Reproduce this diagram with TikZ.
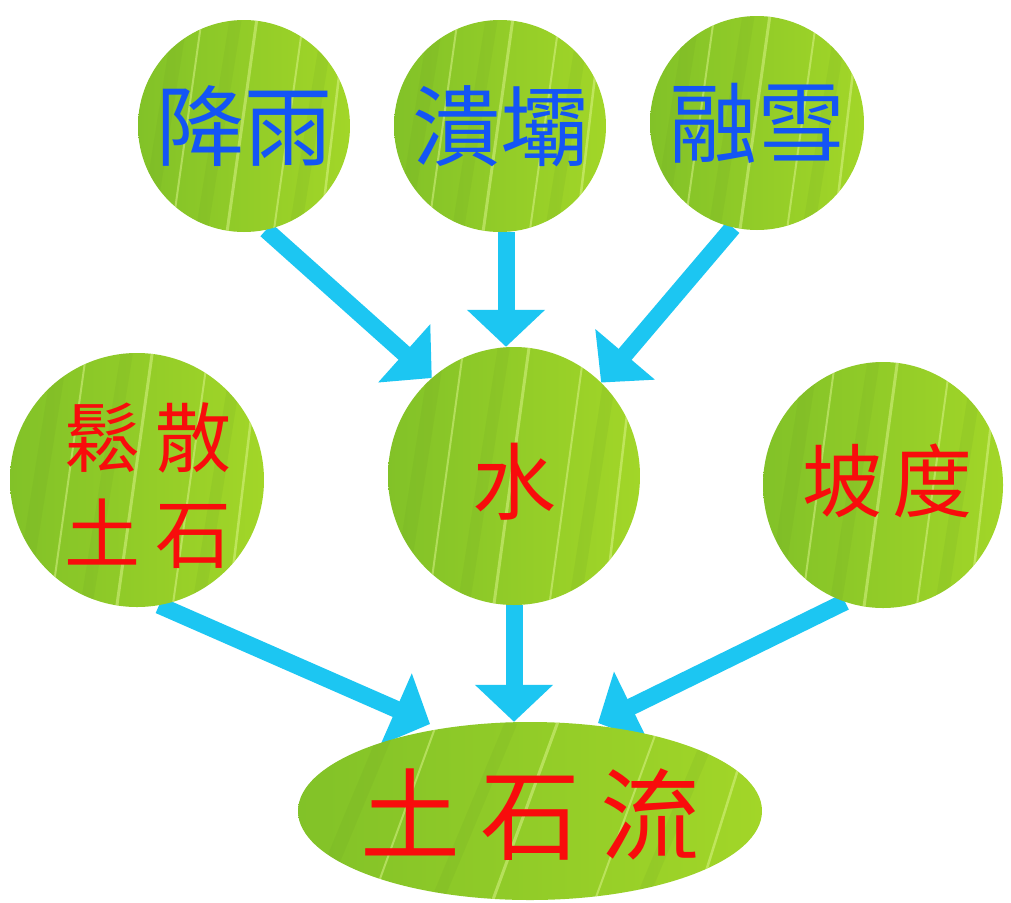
\documentclass[tikz,border=0pt]{standalone}
\usepackage{fontspec}
\newfontfamily\cjk{Noto Sans CJK TC}
\usetikzlibrary{arrows.meta,shapes.geometric,calc,backgrounds}
\definecolor{leafdark}{RGB}{130,194,40}
\definecolor{leafmid}{RGB}{200,234,48}
\definecolor{leafright}{RGB}{162,214,40}
\definecolor{streak}{RGB}{230,250,155}
\definecolor{arrowblue}{RGB}{28,198,242}
\definecolor{txtblue}{RGB}{20,85,245}
\definecolor{txtred}{RGB}{248,12,12}
\tikzset{
  leaf/.style={ellipse, inner sep=0pt, path picture={
      \path (path picture bounding box.south west) coordinate (pa)
            (path picture bounding box.north east) coordinate (pb);
      \shade[left color=leafdark, middle color=leafmid, right color=leafright] (pa) rectangle (pb);
      \foreach \f/\g/\w in {0.04/0.20/14pt, 0.30/0.46/12pt, 0.74/0.90/12pt}{
        \draw[leafdark!80!black, opacity=0.12, line width=\w] ($(pa)!\f!(pa -| pb)$) -- ($(pa |- pb)!\g!(pb)$);
      }
      \foreach \f/\g/\w in {0.16/0.30/2pt, 0.42/0.56/3pt, 0.64/0.78/2pt, 0.86/0.98/2.5pt}{
        \draw[streak, opacity=0.45, line width=\w] ($(pa)!\f!(pa -| pb)$) -- ($(pa |- pb)!\g!(pb)$);
      }
    }},
  bluetext/.style={text=txtblue, font=\cjk\fontsize{88}{96}\selectfont},
  redtext/.style={text=txtred, font=\cjk\fontsize{#1}{96}\selectfont},
  arr/.style={draw=arrowblue, line width=17pt, -{Triangle[length=37pt,width=76pt]}},
}
\begin{document}
\begin{tikzpicture}[x=1pt,y=-1pt]
\useasboundingbox (0,0) rectangle (1011,902);
% nodes
\node[leaf, minimum width=212pt, minimum height=212pt,
  label={[bluetext, name=rainT]center:降雨}] (rain) at (244,126) {};
\node[leaf, minimum width=212pt, minimum height=212pt,
  label={[bluetext, name=damT]center:潰壩}] (dam) at (500,126) {};
\node[leaf, minimum width=214pt, minimum height=214pt,
  label={[bluetext, name=snowT]center:融雪}] (snow) at (757,123) {};
\node[leaf, minimum width=254pt, minimum height=254pt,
  label={[redtext=76, align=center, name=looseT, xshift=11pt, yshift=-6pt]center:{鬆\hspace{15pt}散\\土\hspace{15pt}石}}] (loose) at (137,480) {};
\node[leaf, minimum width=252pt, minimum height=258pt,
  label={[redtext=84, name=waterT, yshift=-6pt]center:水}] (water) at (514,476) {};
\node[leaf, minimum width=240pt, minimum height=246pt,
  label={[redtext=80, name=slopeT, xshift=4pt, yshift=4pt]center:{坡\hspace{10pt}度}}] (slope) at (883,485) {};
\node[leaf, minimum width=464pt, minimum height=178pt,
  label={[redtext=100, name=debrisT, yshift=-4pt]center:{土\hspace{20pt}石\hspace{20pt}流}}] (debris) at (530,811) {};
% connectors
\begin{scope}[on background layer]
\fill[white] (0,0) rectangle (1011,902);
\draw[arr] (rain.-78) -- (water.130);
\draw[arr] ([xshift=6pt]dam.south) -- ([xshift=6pt]dam.south |- water.north);
\draw[arr] (snow.-103) -- (water.47);
\draw[arr] (loose.-80) -- ($(debris.center)+(-100,-87)$);
\draw[arr] (water.south) -- (water.south |- debris.north);
\draw[arr] (slope.-108) -- ($(debris.center)+(68,-88)$);
\end{scope}
\end{tikzpicture}
\end{document}
